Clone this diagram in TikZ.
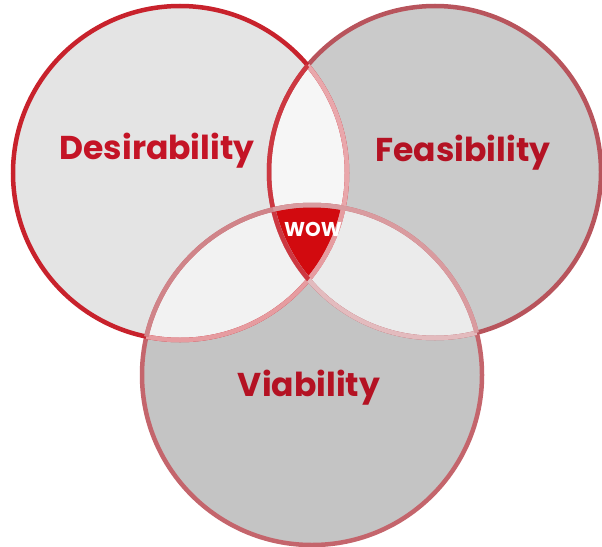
\documentclass[tikz,border=0pt]{standalone}
\usepackage{fontspec}
\setmainfont{Poppins}
\definecolor{dfill}{HTML}{E4E4E4}
\definecolor{ffill}{HTML}{CACACA}
\definecolor{vfill}{HTML}{C4C4C4}
\definecolor{dffill}{HTML}{F6F6F6}
\definecolor{dvfill}{HTML}{F2F2F2}
\definecolor{fvfill}{HTML}{EBEBEB}
\definecolor{wowred}{HTML}{D20A0F}
\definecolor{dline}{HTML}{C8222C}
\definecolor{fline}{HTML}{B8545C}
\definecolor{vline}{HTML}{C4656C}
\definecolor{txtred}{HTML}{C41426}
\tikzset{
  ring/.style={line width=4.5pt},
  label/.style={font=\bfseries\fontsize{33}{36}\selectfont, text=txtred, inner sep=0pt},
}
\begin{document}
\begin{tikzpicture}[x=1pt,y=-1pt]
\useasboundingbox (0,0) rectangle (602,546);
\fill[white] (0,0) rectangle (602,546);
% base fills
\fill[dfill] (180,173) circle[radius=167pt];
\fill[ffill] (435,172) circle[radius=166pt];
\fill[vfill] (312,375) circle[radius=170pt];
% pairwise intersections
\begin{scope}
  \clip (180,173) circle[radius=167pt];
  \fill[dffill] (435,172) circle[radius=166pt];
  \fill[dvfill] (312,375) circle[radius=170pt];
\end{scope}
\begin{scope}
  \clip (435,172) circle[radius=166pt];
  \fill[fvfill] (312,375) circle[radius=170pt];
\end{scope}
% triple intersection
\begin{scope}
  \clip (180,173) circle[radius=167pt];
  \clip (435,172) circle[radius=166pt];
  \fill[wowred] (312,375) circle[radius=170pt];
\end{scope}
% outlines
\draw[ring, vline] (312,375) circle[radius=170pt];
\draw[ring, fline] (435,172) circle[radius=166pt];
\draw[ring, dline] (180,173) circle[radius=167pt];
% lighter arcs inside other circles
\begin{scope}
  \clip (435,172) circle[radius=166pt];
  \draw[ring, color=dline!40] (180,173) circle[radius=167pt];
\end{scope}
\begin{scope}
  \clip (312,375) circle[radius=170pt];
  \draw[ring, color=dline!45] (180,173) circle[radius=167pt];
  \draw[ring, color=fline!40] (435,172) circle[radius=166pt];
\end{scope}
\begin{scope}
  \clip (180,173) circle[radius=167pt];
  \draw[ring, color=dline!90] (435,172) circle[radius=166pt];
  \draw[ring, color=vline!80] (312,375) circle[radius=170pt];
\end{scope}
\begin{scope}
  \clip (435,172) circle[radius=166pt];
  \draw[ring, color=vline!65] (312,375) circle[radius=170pt];
\end{scope}
% labels
\node[label] (des) at (157,151) {Desirability};
\node[label, text=txtred!92!black] (fea) at (463,153) {Feasibility};
\node[label, text=txtred!92!black] (via) at (309,388) {Viability};
\node[font=\bfseries\fontsize{20}{22}\selectfont, text=white, inner sep=0pt] (wow) at (313,229) {WOW};
\end{tikzpicture}
\end{document}
